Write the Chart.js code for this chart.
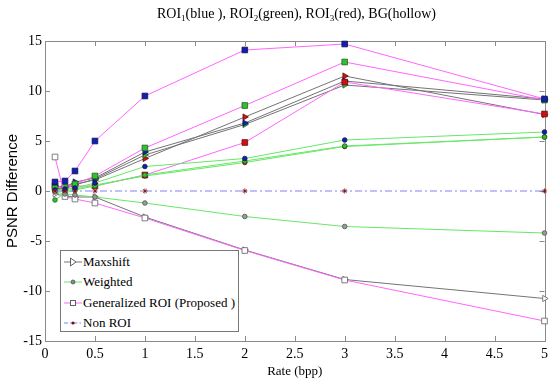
<!DOCTYPE html>
<html>
<head>
<meta charset="utf-8">
<script src="https://cdn.jsdelivr.net/npm/chart.js@4.4.1/dist/chart.umd.min.js"></script>
<style>
  body { margin: 0; background: #fff; }
  #wrap { position: relative; width: 553px; height: 380px; }
  #title { position: absolute; top: 5px; left: 45px; width: 503px; text-align: center;
           font-family: "Liberation Serif", serif; font-size: 14px; color: #000; line-height: 18px; }
  #title sub { font-size: 9px; vertical-align: -3px; line-height: 0; }
  #legend { position: absolute; left: 60px; top: 250px; width: 177px; height: 80px;
            border: 1px solid #777; background: #fff; font-family: "Liberation Serif", serif;
            font-size: 13px; color: #000; }
  .row { position: absolute; left: 2px; height: 18px; line-height: 18px; white-space: nowrap; }
  .row svg { vertical-align: middle; position: relative; top: -1px; }
</style>
</head>
<body>
<div id="wrap">
  <canvas id="c" width="553" height="380"></canvas>
  <div id="title">ROI<sub>1</sub>(blue ), ROI<sub>2</sub>(green), ROI<sub>3</sub>(red), BG(hollow)</div>
  <div id="legend"></div>
</div>
<script>
// ---- data ----
const rates = [0.1, 0.2, 0.3, 0.5, 1, 2, 3, 5];

const maxshiftROI1 = [0.5, 0.4, 0.9, 1.3, 3.9, 6.8, 11.0, 9.2];
const maxshiftROI2 = [0.2, 0.3, 0.6, 1.2, 3.6, 6.65, 10.6, 9.1];
const maxshiftROI3 = [0.4, 0.5, 0.7, 1.1, 3.25, 7.4, 11.5, 7.65];
const maxshiftBG   = [-0.3, -0.5, -0.6, -0.6, -2.6, -5.9, -8.85, -10.75];

const weightedROI1 = [0.1, 0.2, 0.3, 0.8, 2.45, 3.25, 5.1, 5.9];
const weightedROI2 = [-0.9, -0.2, 0.1, 0.5, 1.6, 3.0, 4.5, 5.4];
const weightedROI3 = [0.0, 0.0, 0.2, 0.6, 1.5, 2.85, 4.45, 5.4];
const weightedBG   = [-0.1, -0.3, -0.4, -0.6, -1.2, -2.55, -3.55, -4.2];

const generalizedROI1 = [0.9, 1.0, 2.0, 5.0, 9.5, 14.1, 14.7, 9.2];
const generalizedROI2 = [0.3, 0.4, 0.7, 1.5, 4.3, 8.55, 12.9, 9.1];
const generalizedROI3 = [0.5, 0.3, 0.5, 0.5, 1.6, 4.85, 10.9, 7.7];
const generalizedBG   = [3.4, -0.55, -0.8, -1.2, -2.7, -5.95, -8.9, -13.0];

const nonROI = [0, 0, 0, 0, 0, 0, 0, 0];

const methodNames = ["Maxshift", "Weighted", "Generalized ROI (Proposed )", "Non ROI"];
const xTickValues = [0, 0.5, 1, 1.5, 2, 2.5, 3, 3.5, 4, 4.5, 5];
const yTickValues = [-15, -10, -5, 0, 5, 10, 15];

// ---- styles ----
const serif = "'Liberation Serif', 'Times New Roman', serif";
const sans = "'Liberation Sans', Arial, sans-serif";
const lineColor = { max: "#747474", wei: "#66e866", gen: "#ff66ff", non: "#8080ff" };
const regionFill = { roi1: "#1020b0", roi2: "#30c030", roi3: "#d01010", bg: "#ffffff" };
const regionEdge = { roi1: "#101050", roi2: "#206020", roi3: "#601010", bg: "#606060" };
const methodMarker = {
  max: { style: "triangle", r: 3.6, rot: 90 },
  wei: { style: "circle", r: 2.3, rot: 0 },
  gen: { style: "rect", r: 4, rot: 0 },
  non: { style: "star", r: 2.6, rot: 0 }
};

function mk(label, values, method, region, extra) {
  const m = methodMarker[method];
  return Object.assign({
    label: label,
    data: rates.map((r, i) => ({ x: r, y: values[i] })),
    borderColor: lineColor[method],
    borderWidth: 1,
    pointStyle: m.style,
    pointRotation: m.rot,
    pointRadius: m.r,
    pointBackgroundColor: regionFill[region],
    pointBorderColor: regionEdge[region],
    pointBorderWidth: 0.8,
    tension: 0,
    fill: false,
    clip: false
  }, extra || {});
}

const datasets = [
  mk("Non ROI", nonROI, "non", "roi3", { borderDash: [7, 3, 2, 3], pointBackgroundColor: "#7a0a0a", pointBorderColor: "#7a0a0a" }),
  mk("Weighted BG", weightedBG, "wei", "bg", { pointBackgroundColor: "#9a9a9a", pointBorderColor: "#505050" }),
  mk("Weighted ROI1", weightedROI1, "wei", "roi1"),
  mk("Weighted ROI2", weightedROI2, "wei", "roi2"),
  mk("Weighted ROI3", weightedROI3, "wei", "roi3"),
  mk("Generalized BG", generalizedBG, "gen", "bg"),
  mk("Generalized ROI1", generalizedROI1, "gen", "roi1"),
  mk("Generalized ROI2", generalizedROI2, "gen", "roi2"),
  mk("Generalized ROI3", generalizedROI3, "gen", "roi3"),
  mk("Maxshift BG", maxshiftBG, "max", "bg"),
  mk("Maxshift ROI1", maxshiftROI1, "max", "roi1"),
  mk("Maxshift ROI2", maxshiftROI2, "max", "roi2"),
  mk("Maxshift ROI3", maxshiftROI3, "max", "roi3")
];

// inward ticks on all four sides + box, MATLAB style
const boxTicks = {
  id: "boxTicks",
  beforeDatasetsDraw(chart) {
    const { ctx, chartArea: a, scales } = chart;
    ctx.save();
    ctx.strokeStyle = "#8a8a8a";
    ctx.lineWidth = 1;
    ctx.beginPath();
    const L = 5;
    xTickValues.forEach(v => {
      const px = Math.round(scales.x.getPixelForValue(v)) + 0.5;
      ctx.moveTo(px, a.bottom); ctx.lineTo(px, a.bottom - L);
      ctx.moveTo(px, a.top); ctx.lineTo(px, a.top + L);
    });
    yTickValues.forEach(v => {
      const py = Math.round(scales.y.getPixelForValue(v)) + 0.5;
      ctx.moveTo(a.left, py); ctx.lineTo(a.left + L, py);
      ctx.moveTo(a.right, py); ctx.lineTo(a.right - L, py);
    });
    ctx.stroke();
    ctx.strokeRect(Math.round(a.left) + 0.5, Math.round(a.top) + 0.5,
                   Math.round(a.right - a.left), Math.round(a.bottom - a.top));
    ctx.restore();
  }
};

new Chart(document.getElementById("c"), {
  type: "line",
  data: { datasets: datasets },
  options: {
    responsive: false,
    animation: false,
    devicePixelRatio: 1,
    layout: { padding: { left: 0, top: 41, right: 5, bottom: 0 } },
    plugins: { legend: { display: false }, tooltip: { enabled: false }, title: { display: false } },
    scales: {
      x: {
        type: "linear", min: 0, max: 5,
        afterBuildTicks: s => { s.ticks = xTickValues.map(v => ({ value: v })); },
        afterFit: s => { s.height = 39; },
        ticks: { color: "#000", padding: 5, maxRotation: 0, font: { family: serif, size: 14 },
                 callback: v => String(v) },
        grid: { display: false, drawTicks: false },
        border: { display: false },
        title: { display: true, text: "Rate (bpp)", color: "#000",
                 font: { family: serif, size: 13 }, padding: { top: 0, bottom: 1 } }
      },
      y: {
        type: "linear", min: -15, max: 15,
        afterBuildTicks: s => { s.ticks = yTickValues.map(v => ({ value: v })); },
        afterFit: s => { s.width = 45; },
        ticks: { color: "#000", padding: 3, font: { family: serif, size: 14 },
                 callback: v => String(v) },
        grid: { display: false, drawTicks: false },
        border: { display: false },
        title: { display: true, text: "PSNR Difference", color: "#000",
                 font: { family: sans, size: 15 }, padding: { top: 4, bottom: 0 } }
      }
    }
  },
  plugins: [boxTicks]
});

// legend (HTML overlay, entries built from methodNames)
const legendSpecs = [
  { c: lineColor.max, dash: "", m: "tri" },
  { c: lineColor.wei, dash: "", m: "dot" },
  { c: lineColor.gen, dash: "", m: "sq" },
  { c: lineColor.non, dash: "4,2,1.5,2", m: "star" }
];
const rowTops = [2, 22, 43, 63];
const leg = document.getElementById("legend");
methodNames.forEach((name, i) => {
  const s = legendSpecs[i];
  let marker = "";
  if (s.m === "tri") marker = '<polygon points="7.5,5 7.5,13 13,9" fill="#fff" stroke="#606060" stroke-width="1"/>';
  if (s.m === "dot") marker = '<circle cx="10" cy="9" r="2" fill="#8a8a8a" stroke="#505050" stroke-width="0.8"/>';
  if (s.m === "sq") marker = '<rect x="7.5" y="6.5" width="5" height="5" fill="#fff" stroke="#606060" stroke-width="1"/>';
  if (s.m === "star") marker = '<circle cx="10" cy="9" r="1.6" fill="#7a0a0a"/>';
  const row = document.createElement("div");
  row.className = "row";
  row.style.top = rowTops[i] + "px";
  row.innerHTML = '<svg width="20" height="18"><line x1="1" y1="9" x2="19" y2="9" stroke="' + s.c +
    '" stroke-width="1"' + (s.dash ? ' stroke-dasharray="' + s.dash + '"' : '') + '/>' + marker +
    '</svg><span>' + name + '</span>';
  leg.appendChild(row);
});
</script>
</body>
</html>
